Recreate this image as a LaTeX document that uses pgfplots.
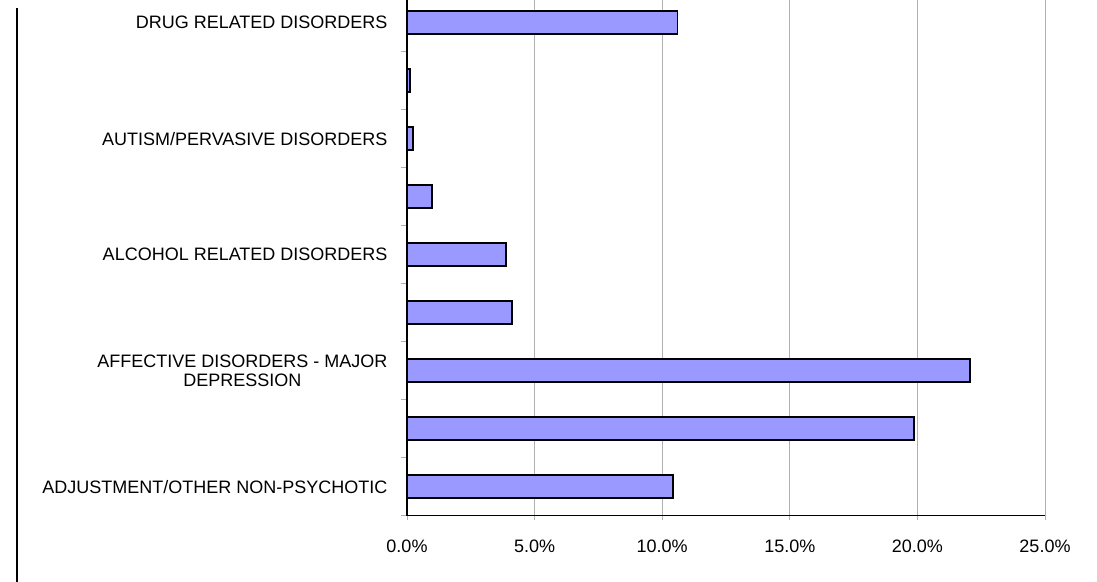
\documentclass[border=0pt]{standalone}
\usepackage{fontspec}
\setmainfont{Liberation Sans}
\usepackage{pgfplots}
\pgfplotsset{compat=1.18}
\definecolor{barblue}{HTML}{9999FF}
\definecolor{gridgray}{HTML}{B0B0B0}
\definecolor{edgegray}{HTML}{8C8C8C}

\begin{document}
\begin{tikzpicture}
\useasboundingbox (0bp,0bp) rectangle (1097bp,582bp);
% frame line on the left
\draw[line width=2bp] (16.5bp,0bp) -- (16.5bp,574bp);
\begin{axis}[
    at={(407bp,66.3bp)}, anchor=south west,
    scale only axis,
    width=638bp, height=515.7bp,
    xbar, bar width=23bp,
    xmin=0, xmax=25,
    ymin=-0.5, ymax=8.39,
    axis x line*=bottom, axis y line*=left,
    axis line style={line width=1.2bp, black},
    tick align=outside,
    xtick={0,5,...,20},
    extra x ticks={25},
    extra x tick labels={25.0\%},
    extra x tick style={grid style={edgegray, line width=2.2bp}},
    xmajorgrids,
    major x grid style={gridgray, line width=0.9bp},
    major tick length=4bp,
    minor tick length=6bp,
    major x tick style={gridgray, line width=0.8bp},
    major y tick style={draw=none},
    minor y tick style={gridgray, line width=0.8bp},
    ytick={0,...,8},
    minor ytick={-0.5,0.5,...,7.5},
    yticklabels={ADJUSTMENT/OTHER NON-PSYCHOTIC,,{AFFECTIVE DISORDERS - MAJOR\\DEPRESSION},,ALCOHOL RELATED DISORDERS,,AUTISM/PERVASIVE DISORDERS,,DRUG RELATED DISORDERS},
    yticklabel style={font=\fontsize{18bp}{19.5bp}\selectfont, align=center, xshift=-12bp},
    xticklabel={\pgfmathprintnumber[fixed,fixed zerofill,precision=1]{\tick}\%},
    /pgf/number format/assume math mode=true,
    xticklabel style={font=\fontsize{18bp}{20bp}\selectfont, yshift=-17bp},
    clip=false,
]
\addplot[fill=barblue, draw=black, line width=1.8bp] coordinates {
    (10.42,0) (19.87,1) (22.06,2) (4.10,3) (3.89,4) (0.97,5) (0.22,6) (0.13,7) (10.60,8)
};
\end{axis}
\end{tikzpicture}
\end{document}
